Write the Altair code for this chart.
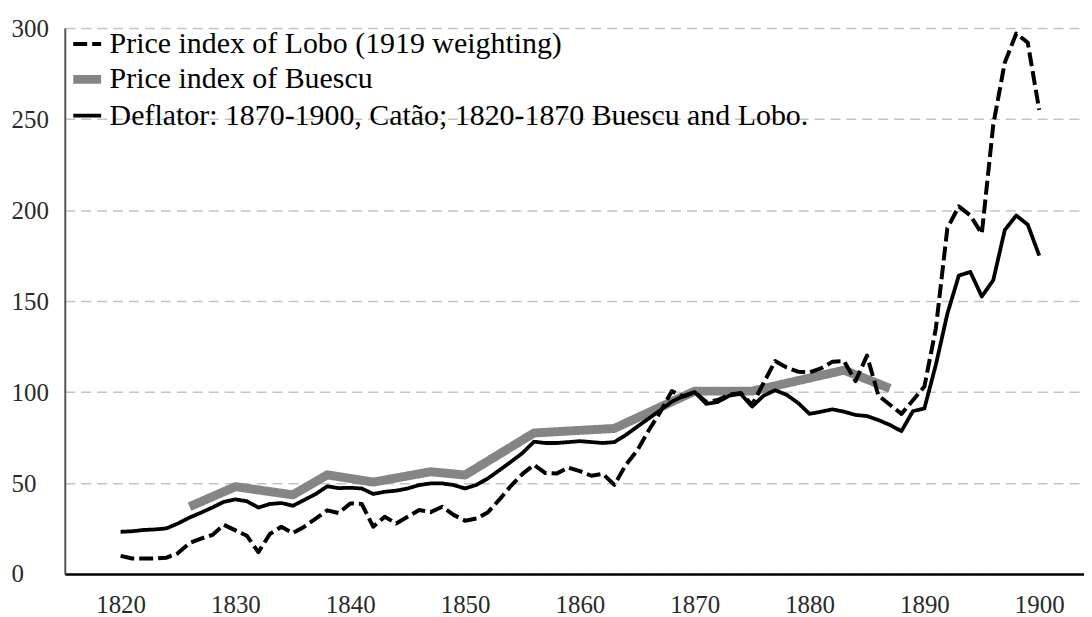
import altair as alt
import pandas as pd

# ---- data ----
years = list(range(1820, 1901))

lobo = [10, 8.5, 8.5, 8.5, 9, 11.5, 17, 19.5, 21.5, 27,
        24, 21, 12, 22, 26, 22.5, 26, 30.5, 35, 33.5,
        38.8, 38.5, 26, 31.5, 27.8, 31.5, 35.2, 34, 37, 32.5,
        29.3, 30.5, 34, 41, 48.5, 55, 60, 55.5, 55.3, 58.5,
        56.5, 54, 55, 49, 60, 68, 79, 89, 100.5, 97.5,
        100, 94.5, 95.6, 98.5, 99.5, 93, 105, 117, 113.5, 111.2,
        110.8, 113, 116.7, 117, 106, 120, 98, 93, 88, 95.5,
        103, 135, 190, 202, 197, 187, 247, 281, 297, 292,
        255]

deflator = [23.2, 23.5, 24.2, 24.5, 25.1, 27.8, 31, 33.7, 36.6, 39.7,
            41, 40, 36.5, 38.5, 39, 37.5, 40.7, 44, 48.2, 47.2,
            47.4, 47, 44, 45.2, 45.8, 47, 48.9, 49.8, 49.8, 48.9,
            47, 49, 52.6, 57.1, 61.7, 66.5, 72.7, 72, 72, 72.5,
            73, 72.5, 72, 72.5, 76.4, 81, 85.5, 90, 94.7, 97.8,
            100, 93.5, 94.5, 98, 99, 92, 98, 101, 98.5, 94,
            88, 89.2, 90.5, 89.2, 87.4, 86.8, 84.6, 81.9, 78.5, 89.5,
            91, 115, 143, 164, 166, 152.5, 161.5, 189, 197, 192,
            175]

buescu_years = [1826, 1830, 1835, 1838, 1842, 1847, 1850, 1856, 1863, 1870, 1875, 1883, 1887]
buescu = [37, 48, 43.5, 54.5, 50.5, 56.2, 54.4, 77.5, 80, 100.5, 100.5, 112, 102]

series_names = ["Price index of Lobo (1919 weighting)",
                "Price index of Buescu",
                "Deflator: 1870-1900, Catão; 1820-1870 Buescu and Lobo."]
series_colors = ["#000000", "#858585", "#000000"]
series_dash = [[14, 5], [1, 0], [1, 0]]
series_width = [4, 9, 3.8]

x_ticks = list(range(1820, 1901, 10))
y_ticks = list(range(0, 301, 50))

rows = []
for y, v in zip(years, lobo):
    rows.append({"series": series_names[0], "year": y, "value": v})
for y, v in zip(buescu_years, buescu):
    rows.append({"series": series_names[1], "year": y, "value": v})
for y, v in zip(years, deflator):
    rows.append({"series": series_names[2], "year": y, "value": v})
df = pd.DataFrame(rows)

FONT = "Liberation Serif"

x_enc = alt.X("year:Q",
              scale=alt.Scale(domain=[1815.14, 1903.9], nice=False, zero=False),
              axis=alt.Axis(values=x_ticks, format="d", title=None, grid=False,
                            ticks=False, labelPadding=19, labelFont=FONT,
                            labelFontSize=25, labelColor="#2a2a2a",
                            domainColor="#000000", domainWidth=2.5))
y_enc = alt.Y("value:Q",
              scale=alt.Scale(domain=[0, 300], nice=False),
              axis=alt.Axis(values=y_ticks, title=None, grid=True,
                            gridDash=[10, 6], gridColor="#c4c4c4", gridWidth=1.5,
                            ticks=False, labelAlign="left", labelPadding=54,
                            labelBaseline="middle",
                            labelFont=FONT, labelFontSize=25, labelColor="#2a2a2a",
                            domainColor="#555555", domainWidth=2))
color_enc = alt.Color("series:N",
                      scale=alt.Scale(domain=series_names, range=series_colors),
                      legend=alt.Legend(title=None))
dash_enc = alt.StrokeDash("series:N",
                          scale=alt.Scale(domain=series_names, range=series_dash),
                          legend=alt.Legend(title=None))
width_enc = alt.StrokeWidth("series:N",
                            scale=alt.Scale(type="ordinal", domain=series_names, range=series_width),
                            legend=alt.Legend(title=None))

base = alt.Chart(df).mark_line(strokeJoin="round").encode(
    x=x_enc, y=y_enc, color=color_enc, strokeDash=dash_enc, strokeWidth=width_enc,
    detail="series:N", order="year:Q")

gray_layer = base.transform_filter(alt.datum.series == series_names[1])
black_layer = base.transform_filter(alt.datum.series != series_names[1])

chart = alt.layer(gray_layer, black_layer).properties(
    width=1023, height=548,
    padding={"left": 57, "top": 19, "right": 0, "bottom": 42},
    autosize=alt.AutoSizeParams(type="none"),
).configure_view(stroke=None).configure_legend(
    orient="none", legendX=4, legendY=0,
    symbolType="stroke", symbolSize=784,
    labelFont=FONT, labelFontSize=30, labelColor="#000000",
    labelOffset=4, rowPadding=2, labelLimit=0,
)

chart.save("out.html", embed_options={"renderer": "svg", "actions": False})
